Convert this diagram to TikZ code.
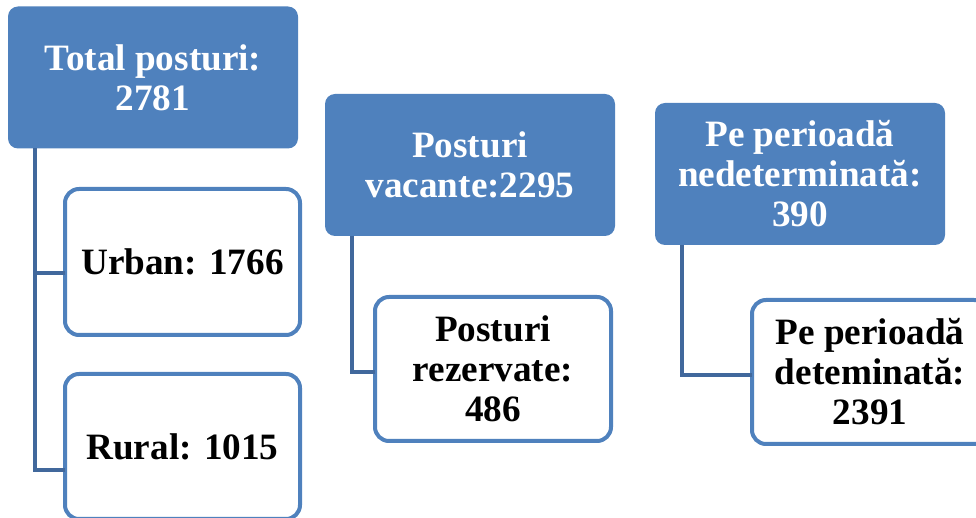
\documentclass[tikz,border=0pt]{standalone}
\usepackage{fontspec}
\setmainfont{Liberation Serif}
\usepackage{tikz}
\definecolor{headc}{RGB}{79,129,189}
\definecolor{linkc}{RGB}{65,104,156}
\newcommand{\boxfont}{\fontsize{18.6}{20}\selectfont\bfseries}

\begin{document}
\begin{tikzpicture}[x=0.5pt,y=-0.5pt,
  headbox/.style={fill=headc,text=white,rounded corners=5pt,minimum width=145pt,
    minimum height=71pt,inner sep=0pt,outer sep=0pt,align=center,font=\boxfont},
  subbox/.style={draw=headc,line width=2pt,fill=white,text=black,rounded corners=7pt,
    minimum width=117.5pt,minimum height=73pt,inner sep=0pt,outer sep=0pt,align=center,font=\boxfont},
  link/.style={draw=linkc,line width=2pt}]
\path[use as bounding box] (0,0) rectangle (976,518);
\clip (0,0) rectangle (976,518);
% top level boxes
\node[headbox] (total) at (153,77.5) {Total posturi:\\2781};
\node[headbox] (vacante) at (470,165) {Posturi\\vacante:2295};
\node[headbox] (nedet) at (800,174) {Pe perioad\u{a}\\nedeterminat\u{a}:\\390};
% children
\node[subbox] (urban) at (182.5,262) {Urban: 1766};
\node[subbox,minimum height=72.5pt] (rural) at (182.5,446.5) {Rural: 1015};
\node[subbox,minimum width=118pt,minimum height=72pt] (rezerv) at (493,369) {Posturi\\rezervate:\\486};
\node[subbox,minimum width=118pt,minimum height=72pt] (det) at (870,372) {Pe perioad\u{a}\\deteminat\u{a}:\\2391};
% connectors
\draw[link] ([xshift=13.5pt]total.south west) |- ([yshift=-5.5pt]urban.west);
\draw[link] ([xshift=13.5pt]total.south west) |- ([yshift=-11.75pt]rural.west);
\draw[link] ([xshift=13.5pt]vacante.south west) |- ([yshift=-1.5pt]rezerv.west);
\draw[link] ([xshift=13.5pt]nedet.south west) |- ([yshift=-1.5pt]det.west);
\end{tikzpicture}
\end{document}
